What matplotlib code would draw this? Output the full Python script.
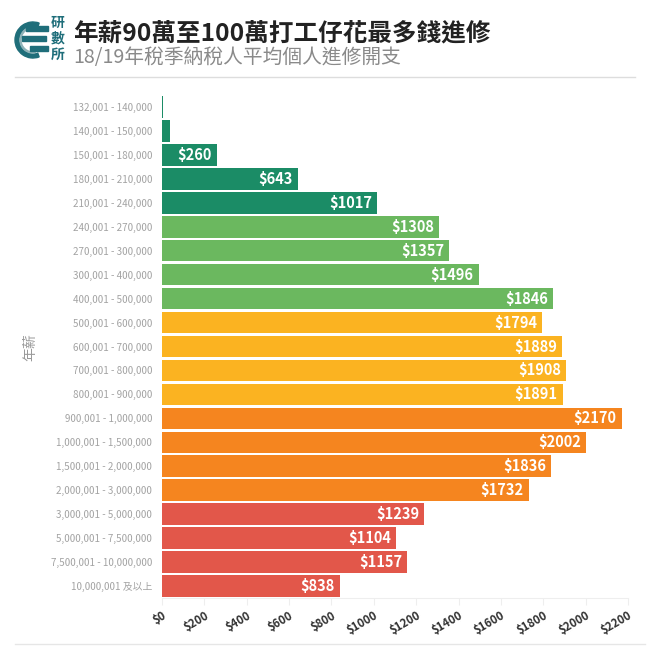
import matplotlib.pyplot as plt
import matplotlib.patches as mpatches
import numpy as np

plt.rcParams['font.family'] = ['Noto Sans CJK TC', 'DejaVu Sans']

# data
categories = ['132,001 - 140,000', '140,001 - 150,000', '150,001 - 180,000',
              '180,001 - 210,000', '210,001 - 240,000', '240,001 - 270,000',
              '270,001 - 300,000', '300,001 - 400,000', '400,001 - 500,000',
              '500,001 - 600,000', '600,001 - 700,000', '700,001 - 800,000',
              '800,001 - 900,000', '900,001 - 1,000,000', '1,000,001 - 1,500,000',
              '1,500,001 - 2,000,000', '2,000,001 - 3,000,000', '3,000,001 - 5,000,000',
              '5,000,001 - 7,500,000', '7,500,001 - 10,000,000', '10,000,001 及以上']
values = [5, 38, 260, 643, 1017, 1308, 1357, 1496, 1846,
          1794, 1889, 1908, 1891, 2170, 2002, 1836, 1732,
          1239, 1104, 1157, 838]
xticks = [0, 200, 400, 600, 800, 1000, 1200, 1400, 1600, 1800, 2000, 2200]

# colour groups
group_sizes = [5, 4, 4, 4, 4]
group_colors = ['#1b8c66', '#6bb85f', '#fbb321', '#f5851f', '#e2574a']
colors = []
for n, c in zip(group_sizes, group_colors):
    colors += [c] * n

W, H = 656, 649
fig = plt.figure(figsize=(W / 100, H / 100), dpi=100)

# ------- header
fig.text(73 / W, 1 - 33 / H, '年薪90萬至100萬打工仔花最多錢進修',
         fontsize=17.7, fontweight='bold', color='#222222', va='center', ha='left')
fig.text(73 / W, 1 - 58 / H, '18/19年稅季納稅人平均個人進修開支',
         fontsize=14.2, color='#8a8a8a', va='center', ha='left')

# rough logo, drawn in pixel coords
teal = '#1f6e7a'
logo = fig.add_axes([12 / W, 1 - 68 / H, 58 / W, 56 / H])
logo.set_xlim(12, 70)
logo.set_ylim(68, 12)
logo.axis('off')
logo.add_patch(mpatches.Wedge((33, 40), 18, 70, 290, width=4, color=teal))
logo.add_patch(mpatches.Wedge((33, 40), 13, 80, 280, width=1, color='#8fb3b8'))
logo.add_patch(mpatches.Rectangle((26, 26), 22, 5, color=teal))
logo.add_patch(mpatches.Rectangle((22, 36), 24, 5, color=teal))
logo.add_patch(mpatches.Rectangle((30, 46), 18, 5, color=teal))
for i, ch in enumerate(['研', '數', '所']):
    logo.text(58, 23 + i * 16, ch, fontsize=10, fontweight='bold', color=teal,
              ha='center', va='center')

# separator lines
fig.add_artist(plt.Line2D([15 / W, 635 / W], [1 - 77 / H] * 2,
                          color='#dddddd', lw=1))
fig.add_artist(plt.Line2D([15 / W, 645 / W], [1 - 644 / H] * 2,
                          color='#e6e6e6', lw=1))

# ------- bars
ax = fig.add_axes([162 / W, 1 - 598 / H, 466 / W, 503 / H])
y = np.arange(len(categories))
ax.barh(y, values, height=0.9, color=colors)
ax.set_ylim(len(categories) - 0.5, -0.5)
ax.set_xlim(0, 2200)

for yi, v in zip(y, values):
    if v > 200:
        ax.text(v - 24, yi, f'${v}', color='white', fontsize=10.5,
                fontweight='bold', ha='right', va='center')

ax.set_yticks(y)
ax.set_yticklabels(categories, fontsize=7.1, color='#a3a3a3')
ax.set_xticks(xticks)
ax.set_xticklabels([f'${t}' for t in xticks], rotation=30, fontsize=8.2,
                   fontweight='bold', color='#333333', ha='right',
                   rotation_mode='anchor')
ax.tick_params(axis='y', length=0, pad=7)
ax.tick_params(axis='x', length=5, color='#eeeeee', pad=3)
for s in ['top', 'right', 'left']:
    ax.spines[s].set_visible(False)
ax.spines['bottom'].set_color('#eeeeee')

fig.text(30 / W, 1 - 347 / H, '年薪', fontsize=10, color='#999999',
         rotation=90, ha='center', va='center')

fig.savefig('out.png', dpi=100)
